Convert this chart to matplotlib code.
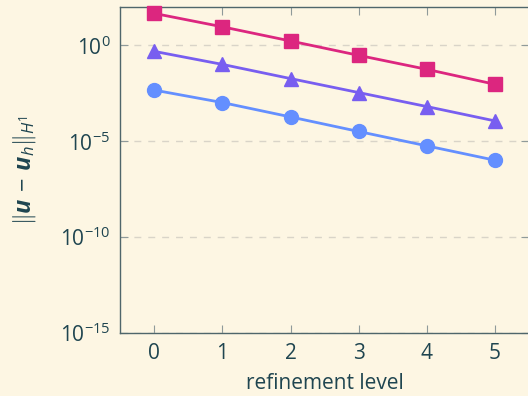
import matplotlib
matplotlib.use("Agg")
import matplotlib.pyplot as plt
import matplotlib.ticker as mticker

# error norms per refinement level (three discretisations)
levels = [0, 1, 2, 3, 4, 5]
err_square = [10**1.67, 10**0.97, 10**0.23, 10**-0.52, 10**-1.25, 10**-2.03]
err_triangle = [10**-0.31, 10**-0.99, 10**-1.73, 10**-2.46, 10**-3.19, 10**-3.94]
err_circle = [10**-2.33, 10**-2.98, 10**-3.73, 10**-4.49, 10**-5.24, 10**-5.99]

bg = "#fdf6e3"
txt = "#1f4550"
axcol = "#4f666b"

plt.rcParams["font.family"] = ["Open Sans", "DejaVu Sans"]
plt.rcParams["mathtext.fontset"] = "custom"
plt.rcParams["mathtext.rm"] = "Open Sans"
plt.rcParams["mathtext.it"] = "Open Sans:italic"
plt.rcParams["mathtext.bf"] = "Open Sans:bold"
plt.rcParams["mathtext.bfit"] = "Open Sans:italic:bold"
plt.rcParams["mathtext.sf"] = "Open Sans"

fig = plt.figure(figsize=(5.28, 3.96), dpi=100, facecolor=bg)
ax = fig.add_axes([0.2273, 0.159, 0.775, 0.8232], facecolor=bg)

ax.plot(levels, err_square, color="#DC267F", marker="s", markersize=9.5, lw=2.0, clip_on=False, zorder=3)
ax.plot(levels, err_triangle, color="#785EF0", marker="^", markersize=10, lw=2.0, clip_on=False, zorder=3)
ax.plot(levels, err_circle, color="#648FFF", marker="o", markersize=10, lw=2.0, clip_on=False, zorder=3)

ax.set_yscale("log")
ax.set_ylim(1e-15, 1e2)
ax.set_xlim(-0.5, 5.5)
ax.set_xticks(levels)
ax.yaxis.set_major_locator(mticker.FixedLocator([1e-15, 1e-10, 1e-5, 1e0]))
ax.yaxis.set_minor_locator(mticker.NullLocator())

ax.grid(axis="y", color="#d9d4c8", linestyle=(0, (5, 5)), lw=1.0, zorder=0)
for s in ax.spines.values():
    s.set_color(axcol)
    s.set_linewidth(1.0)

ax.tick_params(direction="in", top=True, right=True, length=6, width=0.8,
               color="#8f9a9a", labelsize=15, labelcolor=txt, pad=7)

ax.set_xlabel("refinement level", fontsize=15, color=txt, labelpad=7)
ax.set_ylabel(r"$\|\boldsymbol{u}\,-\,\boldsymbol{u}_h\|_{H^1}$", fontsize=17, color=txt, labelpad=16)

fig.savefig("out.png", dpi=100, facecolor=bg)
